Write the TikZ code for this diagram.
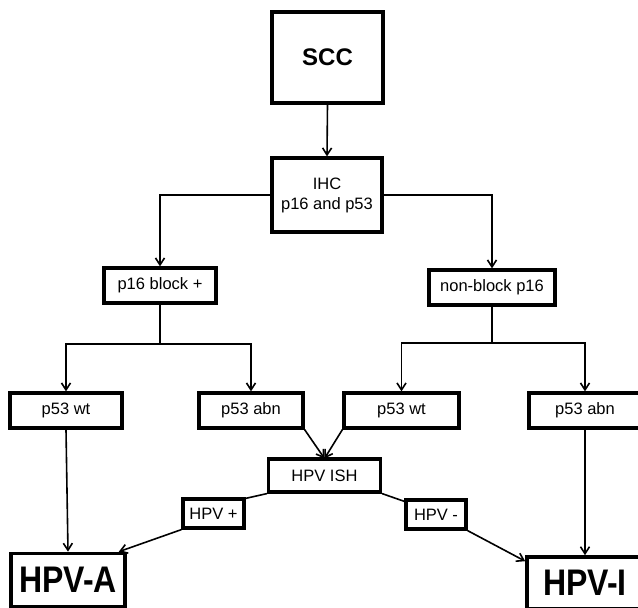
\documentclass[tikz,border=0pt]{standalone}
\usepackage{fontspec}
\setmainfont{Liberation Sans}
\newfontfamily\bigfont[FakeStretch=0.865]{Liberation Sans}
\usetikzlibrary{arrows.meta}
\begin{document}
\begin{tikzpicture}[x=1pt,y=-1pt,
  box/.style={draw=black,line width=3.2pt,fill=white,inner sep=0pt,font=\fontsize{16.5}{20}\selectfont,align=center},
  bigbox/.style={box,line width=3.6pt},
  conn/.style={line width=1.6pt,-{Straight Barb[length=7pt,width=9pt,line width=1.6pt]}},
  plain/.style={line width=1.6pt}]
\useasboundingbox (0,0) rectangle (638,608);
% nodes
\node[bigbox,minimum width=111pt,minimum height=91pt,font=\fontsize{24}{28}\selectfont\bfseries] (scc) at (327.5,57.5) {SCC};
\node[box,minimum width=110pt,minimum height=74pt] (ihc) at (327,195) {IHC\\p16 and p53};
\node[box,minimum width=112pt,minimum height=35pt] (p16b) at (160,285.5) {p16 block +};
\node[box,minimum width=126pt,minimum height=35pt] (p16n) at (492,287.5) {non-block p16};
\node[box,minimum width=112pt,minimum height=35pt] (wt1) at (66,410.5) {p53 wt};
\node[box,minimum width=104pt,minimum height=35pt] (abn1) at (251,410.5) {p53 abn};
\node[box,minimum width=115pt,minimum height=35pt] (wt2) at (401.5,410.5) {p53 wt};
\node[box,minimum width=112pt,minimum height=35pt] (abn2) at (585,410.5) {p53 abn};
\node[box,minimum width=112pt,minimum height=33pt] (ish) at (324.5,475.5) {HPV ISH};
\node[box,minimum width=61pt,minimum height=29pt] (hpvp) at (213.5,513.5) {HPV +};
\node[box,minimum width=60pt,minimum height=29pt] (hpvm) at (436,514.5) {HPV -};
\node[bigbox,minimum width=114pt,minimum height=53pt,font=\fontsize{37}{40}\bigfont\bfseries] (hpva) at (68,580) {HPV-A};
\node[bigbox,minimum width=116pt,minimum height=52pt,font=\fontsize{37}{40}\bigfont\bfseries] (hpvi) at (585,583) {HPV-I};
% coordinates for branch points
\coordinate (lb) at (160,344);
\coordinate (rb) at (492,343);
\coordinate (isht) at (324.5,458.5);
% connectors
\draw[conn] (scc.south) -- (ihc.north);
\draw[conn] (ihc.west) -| (p16b.north);
\draw[conn] (ihc.east) -| (p16n.north);
\draw[plain] (p16b.south) -- (lb);
\draw[conn] (lb) -| (wt1.north);
\draw[conn] (lb) -| (abn1.north);
\draw[plain] (p16n.south) -- (rb);
\draw[conn] (rb) -| (wt2.north);
\draw[conn] (rb) -| (abn2.north);
\draw[conn] (abn1.south east) -- (isht);
\draw[conn] (wt2.south west) -- (isht);
\draw[plain] (ish.south west) -- ([yshift=-1pt]hpvp.north east);
\draw[conn] (hpvp.south west) -- ([xshift=-8pt]hpva.north east);
\draw[plain] (ish.south east) -- ([yshift=-3pt]hpvm.north west);
\draw[conn] (hpvm.south east) -- ([yshift=-6pt]hpvi.north west);
\draw[conn] (wt1.south) -- (hpva.north);
\draw[conn] (abn2.south) -- (hpvi.north);
\end{tikzpicture}
\end{document}
